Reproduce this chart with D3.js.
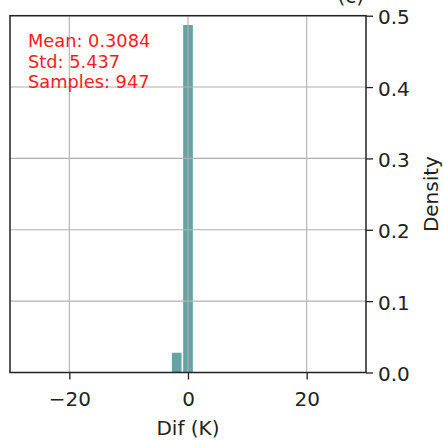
<!DOCTYPE html>
<html>
<head>
<meta charset="utf-8">
<script src="https://cdn.jsdelivr.net/npm/d3@7"></script>
<style>
  html, body { margin: 0; padding: 0; background: #fff; }
  svg { display: block; font-family: "DejaVu Sans", sans-serif; }
</style>
</head>
<body>
<svg id="chart" width="443" height="440"></svg>
<script>
// ---- data ----
const binStarts = [-2.85, -0.95];
const binEnds   = [-0.95,  0.95];
const densities = [0.0277, 0.487];
const xTicks = [-20, 0, 20];
const yTicks = [0.0, 0.1, 0.2, 0.3, 0.4, 0.5];
const statLines = ["Mean: 0.3084", "Std: 5.437", "Samples: 947"];
const titleText = "(c)";
const xLabel = "Dif (K)";
const yLabel = "Density";

// ---- layout ----
const svg = d3.select("#chart");
const L = 10, R = 366, T = 15.7, B = 372.5;
const rwidth = 0.86;

const x = d3.scaleLinear().domain([-30, 30]).range([L, R]);
const y = d3.scaleLinear().domain([0, 0.5]).range([B, T]);

const bins = binStarts.map((s, i) => ({ x0: s, x1: binEnds[i], d: densities[i] }));

// bars
svg.append("g").selectAll("rect").data(bins).join("rect")
  .attr("x", d => {
    const w = (d.x1 - d.x0) * rwidth;
    const c = (d.x0 + d.x1) / 2;
    return x(c - w / 2);
  })
  .attr("width", d => x(d.x0 + (d.x1 - d.x0) * rwidth) - x(d.x0))
  .attr("y", d => y(d.d))
  .attr("height", d => y(0) - y(d.d))
  .attr("fill", "#5f9ea0")
  .attr("opacity", 0.95);

// grid (drawn above bars like matplotlib)
const grid = svg.append("g").attr("stroke", "#b0b0b0").attr("stroke-width", 1.1);
grid.selectAll("line.gx").data(xTicks).join("line")
  .attr("x1", d => x(d)).attr("x2", d => x(d))
  .attr("y1", T).attr("y2", B);
grid.selectAll("line.gy").data(yTicks).join("line")
  .attr("x1", L).attr("x2", R)
  .attr("y1", d => y(d)).attr("y2", d => y(d));

// axes
const xAxis = d3.axisBottom(x).tickValues(xTicks)
  .tickFormat(d => d < 0 ? "\u2212" + Math.abs(d) : String(d))
  .tickSize(7).tickPadding(6);
const gx = svg.append("g").attr("transform", `translate(0,${B})`).call(xAxis);
gx.select(".domain").remove();
gx.selectAll(".tick line").attr("stroke", "#222").attr("stroke-width", 1.3);
gx.selectAll(".tick text").attr("font-size", 20).attr("fill", "#222")
  .attr("font-family", "DejaVu Sans").attr("y", 33.5).attr("dy", 0);

const yAxis = d3.axisRight(y).tickValues(yTicks)
  .tickFormat(d3.format(".1f")).tickSize(7).tickPadding(5);
const gy = svg.append("g").attr("transform", `translate(${R},0)`).call(yAxis);
gy.select(".domain").remove();
gy.selectAll(".tick line").attr("stroke", "#222").attr("stroke-width", 1.3);
gy.selectAll(".tick text").attr("font-size", 20).attr("fill", "#222")
  .attr("font-family", "DejaVu Sans").attr("dy", "0.4em");

// spines
svg.append("rect").attr("x", L).attr("y", T)
  .attr("width", R - L).attr("height", B - T)
  .attr("fill", "none").attr("stroke", "#222").attr("stroke-width", 1.5);

// stats text
svg.append("g").selectAll("text").data(statLines).join("text")
  .attr("x", 28).attr("y", (d, i) => 47.3 + i * 20.5)
  .attr("font-size", 17.8).attr("fill", "#ff1a1a")
  .text(d => d);

// labels
svg.append("text").attr("x", (L + R) / 2).attr("y", 435)
  .attr("text-anchor", "middle").attr("font-size", 20).attr("fill", "#222")
  .text(xLabel);

svg.append("text")
  .attr("transform", `translate(438,${(T + B) / 2}) rotate(-90)`)
  .attr("text-anchor", "middle").attr("font-size", 20).attr("fill", "#222")
  .text(yLabel);

svg.append("text").attr("x", R - 2).attr("y", 2.5)
  .attr("text-anchor", "end").attr("font-size", 20).attr("fill", "#222")
  .text(titleText);
</script>
</body>
</html>
